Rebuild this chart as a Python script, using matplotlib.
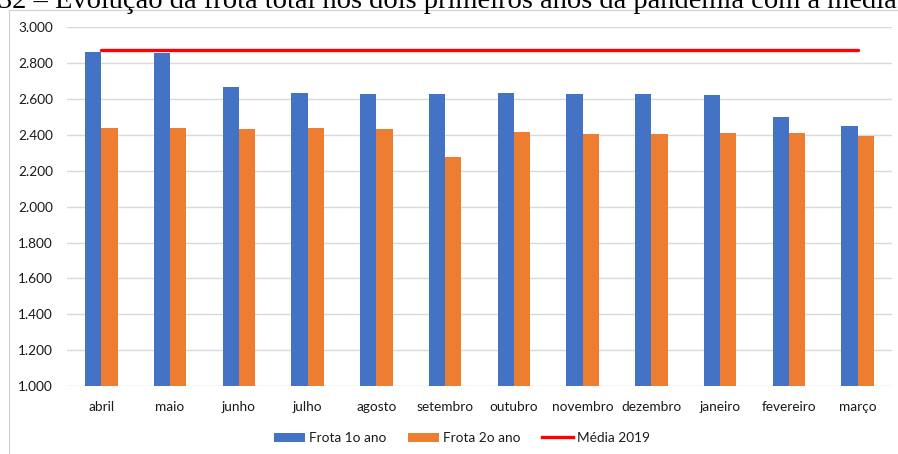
import matplotlib
matplotlib.use("Agg")
import matplotlib.pyplot as plt
from matplotlib.patches import Rectangle, Patch
from matplotlib.lines import Line2D
import numpy as np

meses = ["abril", "maio", "junho", "julho", "agosto", "setembro",
         "outubro", "novembro", "dezembro", "janeiro", "fevereiro", "março"]
frota_1o_ano = [2861, 2857, 2667, 2632, 2628, 2628, 2632, 2628, 2628, 2621, 2502, 2452]
frota_2o_ano = [2439, 2439, 2435, 2437, 2432, 2277, 2418, 2405, 2405, 2409, 2409, 2396]
media_2019 = 2876
y_ticks = [1000, 1200, 1400, 1600, 1800, 2000, 2200, 2400, 2600, 2800, 3000]
titulo = "32 – Evolução da frota total nos dois primeiros anos da pandemia com a média"

AZUL = "#4472C4"
LARANJA = "#ED7D31"
VERMELHO = "#FF0000"
GRADE = "#D9D9D9"
TEXTO = "#1A1A1A"

W, H = 898, 454
fig = plt.figure(figsize=(W / 100, H / 100), dpi=100)
fig.patch.set_facecolor("white")

# chart frame (top and left edges visible)
fig.add_artist(Rectangle((9 / W, -0.05), 1.2, (H - 10) / H + 0.05,
                         transform=fig.transFigure, fill=False,
                         edgecolor="#D0D0D0", linewidth=0.8))

fig.text(897 / W, 1 - 8 / H, titulo, ha="right", va="baseline",
         family="Liberation Serif", fontsize=20.5, color="black")

ax = fig.add_axes([67 / W, 1 - 386 / H, (892 - 67) / W, (386 - 27.3) / H])
x = np.arange(len(meses))
bw = 0.237
ax.bar(x - bw / 2, [v - 1000 for v in frota_1o_ano], bw, bottom=1000,
       color=AZUL, zorder=3)
ax.bar(x + bw / 2, [v - 1000 for v in frota_2o_ano], bw, bottom=1000,
       color=LARANJA, zorder=3)
ax.plot(x, [media_2019] * len(x), color=VERMELHO, linewidth=2.4,
        solid_capstyle="round", zorder=4)

ax.set_xlim(-0.5, len(meses) - 0.5)
ax.set_ylim(1000, 3000)
ax.set_yticks(y_ticks)
ax.set_yticklabels([f"{v:,}".replace(",", ".") for v in y_ticks])
ax.set_xticks(x)
ax.set_xticklabels(meses)
ax.yaxis.grid(True, color=GRADE, linewidth=1.0, zorder=0)
ax.set_axisbelow(True)
for s in ax.spines.values():
    s.set_visible(False)
ax.tick_params(axis="both", length=0, labelsize=9.8, labelcolor=TEXTO)
ax.tick_params(axis="x", pad=10.5)
ax.tick_params(axis="y", pad=10)
for lbl in ax.get_xticklabels() + ax.get_yticklabels():
    lbl.set_family("Lato")

handles = [Patch(facecolor=AZUL), Patch(facecolor=LARANJA),
           Line2D([], [], color=VERMELHO, linewidth=2.4)]
fig.legend(handles, ["Frota 1o ano", "Frota 2o ano", "Média 2019"],
           loc="center", bbox_to_anchor=(462 / W, 1 - 438 / H), ncol=3,
           frameon=False, prop={"family": "Lato", "size": 9.8},
           labelcolor=TEXTO,
           handlelength=2.25, handleheight=0.65, handletextpad=0.3,
           columnspacing=1.6)

fig.savefig("out.png", dpi=100, facecolor="white")
